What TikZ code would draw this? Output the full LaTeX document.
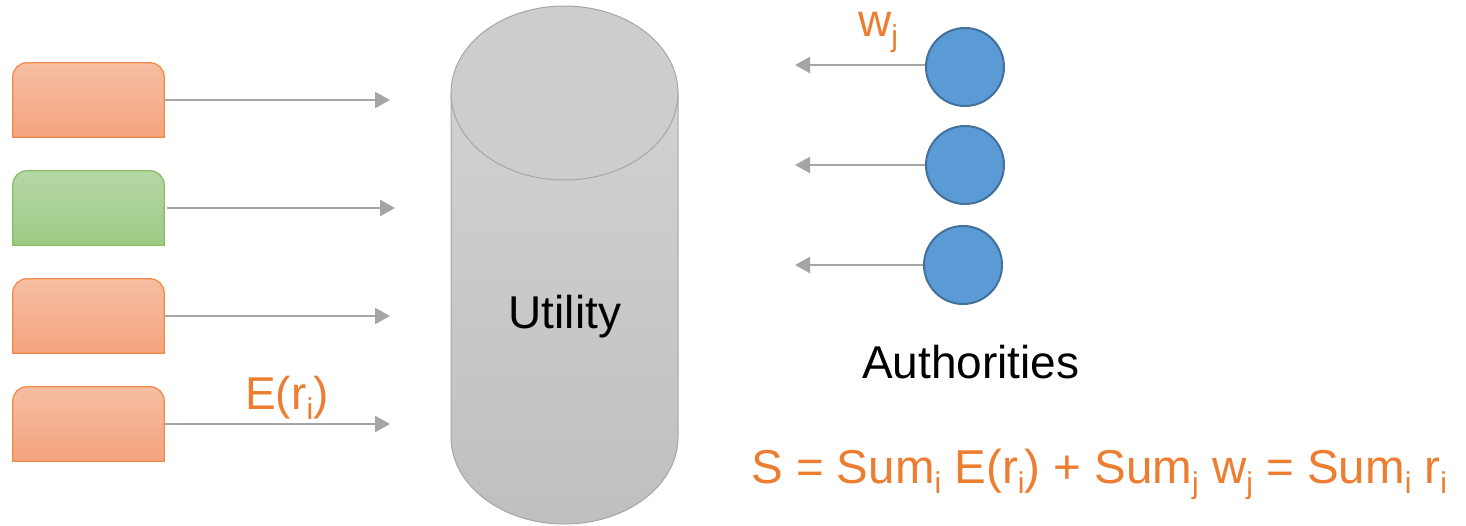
\documentclass[tikz,border=0pt]{standalone}
\usepackage{fontspec}
\setmainfont{Liberation Sans}
\usetikzlibrary{arrows.meta}
\definecolor{accent}{HTML}{ED7D31}
\definecolor{arrowgray}{HTML}{A5A5A5}
\definecolor{orangetop}{HTML}{F6BEA3}
\definecolor{orangebot}{HTML}{F5A37D}
\definecolor{orangeline}{HTML}{F18B4B}
\definecolor{greentop}{HTML}{B5D7A6}
\definecolor{greenbot}{HTML}{9DCA84}
\definecolor{greenline}{HTML}{87BE66}
\definecolor{cylline}{HTML}{A6A6A6}
\definecolor{authfill}{HTML}{5B9BD5}
\definecolor{authline}{HTML}{41719C}
\newcommand\dn[1]{\raisebox{-10pt}{\fontsize{30}{30}\selectfont #1}}
\tikzset{
  big/.style={font=\fontsize{46}{50}\selectfont},
  slot/.style={minimum width=151pt, minimum height=74pt, inner sep=0pt},
  orangeslot/.style={top color=orangetop, bottom color=orangebot, draw=orangeline, line width=1.3pt},
  greenslot/.style={top color=greentop, bottom color=greenbot, draw=greenline, line width=1.3pt},
  feed/.style={draw=arrowgray, line width=2.5pt, -{Triangle[length=15pt,width=16pt]}},
  authority/.style={circle, minimum size=78pt, inner sep=0pt, fill=authfill, draw=authline, line width=2pt},
}
\begin{document}
\begin{tikzpicture}[x=1pt,y=-1pt]
\useasboundingbox (0,0) rectangle (1466,525);

% source boxes
\node[slot] (b1) at (88.5,100) {};
\node[slot] (b2) at (88.5,208) {};
\node[slot] (b3) at (88.5,316) {};
\node[slot] (b4) at (88.5,424) {};
\foreach \b/\s in {b1/orangeslot, b2/greenslot, b3/orangeslot, b4/orangeslot}{
  \path[\s] (\b.south west) [rounded corners=14pt] -- (\b.north west) -- (\b.north east)
        [sharp corners] -- (\b.south east) -- cycle;
}

% utility cylinder
\shade[top color=black!18, bottom color=black!25, draw=cylline, line width=1pt]
  (451,93) -- (451,437) arc (180:0:113.5 and 87) -- (678,93) -- cycle;
\draw[fill=black!19.5, draw=cylline, line width=1pt] (564.5,93) ellipse (113.5 and 87);
\node[big, anchor=base] (util) at (565,328) {Utility};

% arrows into the utility
\coordinate (t1) at (390,100);
\coordinate (t2) at (395,208);
\coordinate (t3) at (390,316);
\coordinate (t4) at (390,424);
\draw[feed] (b1.east) -- (t1);
\draw[feed] ([xshift=3pt]b2.east) -- (t2);
\draw[feed] (b3.east) -- (t3);
\draw[feed] (b4.east) -- (t4);
\node[big, text=accent, anchor=base west, inner sep=0pt] (er) at (245,409) {E(r\dn{i})};

% authorities
\node[authority] (c1) at (965,67) {};
\node[authority] (c2) at (965,165) {};
\node[authority] (c3) at (963,265) {};
\coordinate (u1) at (795,65);
\coordinate (u2) at (795,165);
\coordinate (u3) at (795,265);
\draw[feed] (c1.west |- u1) -- (u1);
\draw[feed] (c2.west) -- (u2);
\draw[feed] (c3.west) -- (u3);
\node[big, text=accent, anchor=base west, inner sep=0pt] (wj) at (858,36) {w\dn{j}};
\node[big, anchor=base west, inner sep=0pt] (auth) at (862,378) {Authorities};

% total
\node[font=\fontsize{47.5}{52}\selectfont, text=accent, anchor=base west, inner sep=0pt] (sum) at (751,483)
  {S = Sum\dn{i} E(r\dn{i}) + Sum\dn{j} w\dn{j} = Sum\dn{i} r\dn{i}};
\end{tikzpicture}
\end{document}
